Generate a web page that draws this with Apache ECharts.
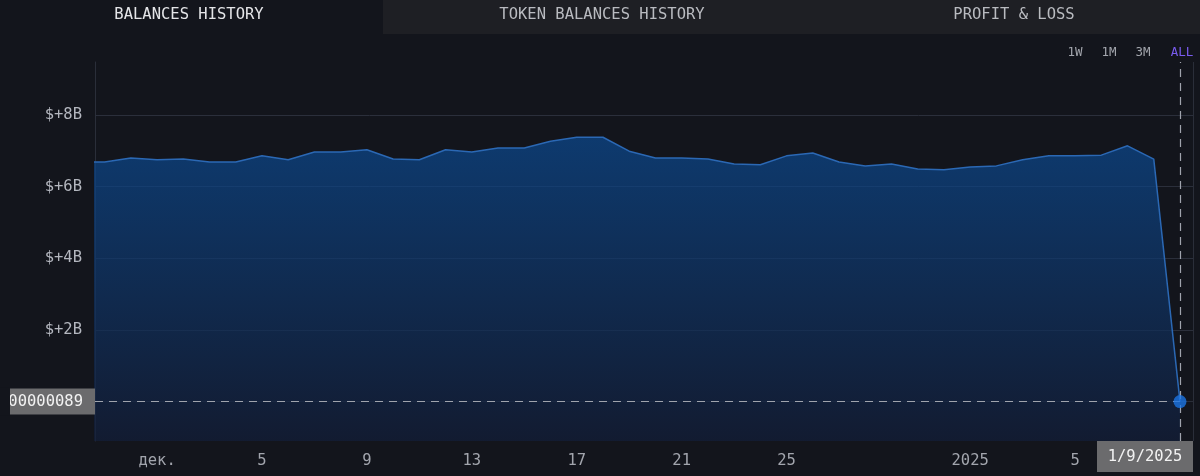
<!DOCTYPE html>
<html><head><meta charset="utf-8">
<script src="https://cdn.jsdelivr.net/npm/echarts@6/dist/echarts.min.js"></script>
<style>html,body{margin:0;padding:0;background:#13151c;overflow:hidden}#c{width:1200px;height:476px;}</style>
</head><body><div id="c"></div>
<script>
const dates = ['2024-11-28','2024-11-29','2024-11-30','2024-12-01','2024-12-02','2024-12-03','2024-12-04','2024-12-05','2024-12-06','2024-12-07','2024-12-08','2024-12-09','2024-12-10','2024-12-11','2024-12-12','2024-12-13','2024-12-14','2024-12-15','2024-12-16','2024-12-17','2024-12-18','2024-12-19','2024-12-20','2024-12-21','2024-12-22','2024-12-23','2024-12-24','2024-12-25','2024-12-26','2024-12-27','2024-12-28','2024-12-29','2024-12-30','2024-12-31','2025-01-01','2025-01-02','2025-01-03','2025-01-04','2025-01-05','2025-01-06','2025-01-07','2025-01-08','2025-01-09'];
const balances = [6.68e9,6.69e9,6.80e9,6.75e9,6.77e9,6.69e9,6.69e9,6.86e9,6.75e9,6.97e9,6.97e9,7.03e9,6.77e9,6.75e9,7.03e9,6.97e9,7.08e9,7.08e9,7.27e9,7.38e9,7.38e9,6.99e9,6.80e9,6.80e9,6.77e9,6.63e9,6.61e9,6.86e9,6.94e9,6.69e9,6.58e9,6.63e9,6.49e9,6.47e9,6.55e9,6.58e9,6.75e9,6.86e9,6.86e9,6.88e9,7.14e9,6.77e9,0.0000000089];
const lastLabel = '0.0000000089';
const lastDateLabel = '1/9/2025';
const yTicks = [2e9,4e9,6e9,8e9];
const yTickLabels = ['$+2B','$+4B','$+6B','$+8B'];
const xTickDates = ['2024-12-01','2024-12-05','2024-12-09','2024-12-13','2024-12-17','2024-12-21','2024-12-25','2025-01-01','2025-01-05'];
const xTickLabels = ['дек.','5','9','13','17','21','25','2025','5'];
const tabs = ['BALANCES HISTORY','TOKEN BALANCES HISTORY','PROFIT & LOSS'];
const ranges = ['1W','1M','3M','ALL'];

const DAY = 86400000;
const ts = s => { const p = s.split('-').map(Number); return Date.UTC(p[0], p[1]-1, p[2]); };
const seriesData = dates.map((d,i) => [ts(d), balances[i]]);
const lastPt = seriesData[seriesData.length-1];
const xMin = ts('2024-12-01') - 2.366*DAY;
const xMax = ts('2025-01-09') + 0.496*DAY;
const xTickTs = xTickDates.map(ts);

const FONT = '"DejaVu Sans Mono", monospace';
const chart = echarts.init(document.getElementById('c'), null, {renderer:'canvas'});
chart.setOption({
  backgroundColor: '#13151c',
  animation: false,
  grid: {left: 95, right: 7, top: 62, bottom: 35, containLabel: false},
  xAxis: {
    type: 'value', min: xMin, max: xMax,
    axisLine: {show: true, lineStyle: {color: '#2a2e39'}},
    axisTick: {show: false},
    splitLine: {show: false},
    axisLabel: {
      customValues: xTickTs,
      color: '#a2a5ad', fontFamily: FONT, fontSize: 15.5, margin: 12,
      hideOverlap: false,
      formatter: v => { const i = xTickTs.indexOf(v); return i >= 0 ? xTickLabels[i] : ''; }
    }
  },
  yAxis: {
    type: 'value', min: -1.1e9, max: 9.48e9,
    axisLine: {show: true, lineStyle: {color: '#2a2e39'}},
    axisTick: {show: false},
    splitLine: {show: false},
    axisLabel: {
      customValues: yTicks,
      color: '#b4b7bf', fontFamily: FONT, fontSize: 15.5, margin: 13,
      padding: [3, 0, 0, 0],
      formatter: v => { const i = yTicks.indexOf(v); return i >= 0 ? yTickLabels[i] : ''; }
    }
  },
  series: [
    {
      type: 'line', data: seriesData, symbol: 'none', z: 2,
      lineStyle: {color: '#2b68b4', width: 1.5},
      areaStyle: {
        origin: 'start',
        color: new echarts.graphic.LinearGradient(0,0,0,1,[
          {offset: 0, color: '#0b4a92'},
          {offset: 1, color: '#121e3a'}
        ])
      },
      markLine: {
        silent: true, symbol: 'none', label: {show: false}, z: 1,
        lineStyle: {color: '#2b2f3b', type: 'solid', width: 1},
        data: yTicks.map(v => ({yAxis: v}))
      }
    },
    {
      type: 'scatter', data: [lastPt], symbol: 'circle', symbolSize: 13, z: 5,
      itemStyle: {color: '#1b74e4'},
      markLine: {
        silent: true, symbol: 'none', label: {show: false},
        lineStyle: {color: '#a0a4ad', type: [8, 6], width: 1.2},
        data: [
          {xAxis: lastPt[0]},
          [{coord: [xMin, lastPt[1]]}, {coord: [lastPt[0], lastPt[1]]}]
        ]
      }
    }
  ]
});

const p = chart.convertToPixel({gridIndex: 0}, lastPt);
const gridRight = 1193;
const dateW = 96;
const dateCx = Math.min(p[0], gridRight - dateW/2);
const g = [];
g.push({type:'rect', shape:{x:383, y:0, width:817, height:34}, style:{fill:'#1e1f24'}, silent:true});
const tabCx = [189, 602, 1014];
tabs.forEach((t,i) => g.push({type:'text', x: tabCx[i], y: 15, style:{text:t, fill: i===0 ? '#e4e5e8' : '#b9bbc0', font: '15.5px ' + FONT, textAlign:'center', textVerticalAlign:'middle'}, silent:true}));
const rangeCx = [1075, 1109, 1143, 1182];
ranges.forEach((r,i) => g.push({type:'text', x: rangeCx[i], y: 52.5, style:{text:r, fill: i===3 ? '#7a5cf0' : '#a3a6ad', font: '12.5px ' + FONT, textAlign:'center', textVerticalAlign:'middle'}, silent:true}));
g.push({type:'line', shape:{x1:gridRight+0.5, y1:62, x2:gridRight+0.5, y2:441}, style:{stroke:'#2a2e39', lineWidth:1}, silent:true});
g.push({type:'rect', shape:{x:10, y:p[1]-13, width:85, height:26}, style:{fill:'#6b6b6d'}, silent:true, z: 10});
g.push({type:'text', x: 83, y: p[1], style:{text:lastLabel, fill:'#f2f2f2', font:'15.5px ' + FONT, textAlign:'right', textVerticalAlign:'middle'}, silent:true, z: 11});
g.push({type:'rect', shape:{x:0, y:p[1]-14, width:10, height:28}, style:{fill:'#13151c'}, silent:true, z: 12});
g.push({type:'rect', shape:{x:dateCx-dateW/2, y:441, width:dateW, height:31}, style:{fill:'#6b6b6d'}, silent:true, z: 10});
g.push({type:'text', x: dateCx, y: 457, style:{text:lastDateLabel, fill:'#f2f2f2', font:'15.5px ' + FONT, textAlign:'center', textVerticalAlign:'middle'}, silent:true, z: 11});
chart.setOption({graphic: g});
</script></body></html>
